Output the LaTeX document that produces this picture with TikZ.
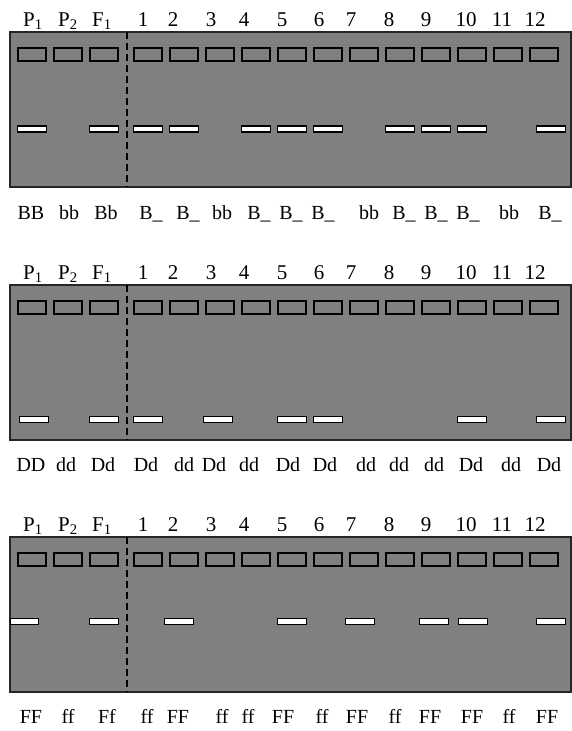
\documentclass[tikz,border=0pt]{standalone}
\usepackage{fontspec}
\setmainfont{Liberation Serif}
\definecolor{gelgray}{RGB}{128,128,128}

\begin{document}
\begin{tikzpicture}[x=1pt,y=-1pt,
 gel/.style={draw=black!85,fill=gelgray,line width=1.2pt,inner sep=0pt,outer sep=0pt,minimum width=561pt,minimum height=155pt},
 well/.style={draw=black,fill=gelgray,line width=1.6pt,inner sep=0pt,minimum width=28.5pt,minimum height=13.5pt},
 band/.style={draw=black,fill=white,line width=1.3pt,inner sep=0pt,minimum width=28.5pt,minimum height=6pt},
 lanehead/.style={font=\fontsize{21}{24}\selectfont,anchor=base,inner sep=0pt},
 geno/.style={font=\fontsize{20}{24}\selectfont,anchor=base,inner sep=0pt},
 divider/.style={line width=1.5pt,dash pattern=on 7pt off 4pt}]
\useasboundingbox (0,0) rectangle (572,731);
% gels, wells and lane heads
\foreach \p/\t in {1/32,2/285,3/537}{
  \node[gel] (gel\p) at (290.5,\t+77.5) {};
  \foreach \x/\hx/\h [count=\i] in {32/33/P\textsubscript{1},68/68/P\textsubscript{2},104/102/F\textsubscript{1},
      148/143/1,184/173/2,220/211/3,256/244/4,292/282/5,328/319/6,364/351/7,
      400/389/8,436/426/9,472/466/10,508/502/11,544/535/12}{
    \node[well] (well\p-\i) at (\x,\t+22.5) {};
    \node[lanehead] (head\p-\i) at (\hx,\t-6) {\h};
  }
  \coordinate (cut\p-top) at (127,\t);
  \coordinate (cut\p-bot) at (127,\t+155);
  \draw[divider] (cut\p-top) -- (cut\p-bot);
}
% bands
\foreach \x [count=\i] in {32,104,148,184,256,292,328,400,436,472,551}
  \node[band] (band1-\i) at (\x,129) {};
\foreach \x [count=\i] in {34,104,148,218,292,328,472,551}
  \node[band] (band2-\i) at (\x,419.5) {};
\foreach \x [count=\i] in {24.5,104,179,292,360,434,473,551}
  \node[band] (band3-\i) at (\x,621.5) {};
% genotypes
\foreach \x/\g [count=\i] in {31/BB,69/bb,106/Bb,151/B\_,188/B\_,222/bb,259/B\_,291/B\_,
    323/B\_,369/bb,404/B\_,436/B\_,468/B\_,509/bb,550/B\_}
  \node[geno] (geno1-\i) at (\x,219) {\g};
\foreach \x/\g [count=\i] in {31/DD,66/dd,103/Dd,146/Dd,184/dd,214/Dd,249/dd,288/Dd,
    325/Dd,366/dd,399/dd,434/dd,471/Dd,511/dd,549/Dd}
  \node[geno] (geno2-\i) at (\x,471) {\g};
\foreach \x/\g [count=\i] in {31/FF,68/ff,107/Ff,147/ff,178/FF,222/ff,248/ff,283/FF,
    322/ff,357/FF,395/ff,430/FF,472/FF,509/ff,547/FF}
  \node[geno] (geno3-\i) at (\x,723) {\g};
\end{tikzpicture}
\end{document}
